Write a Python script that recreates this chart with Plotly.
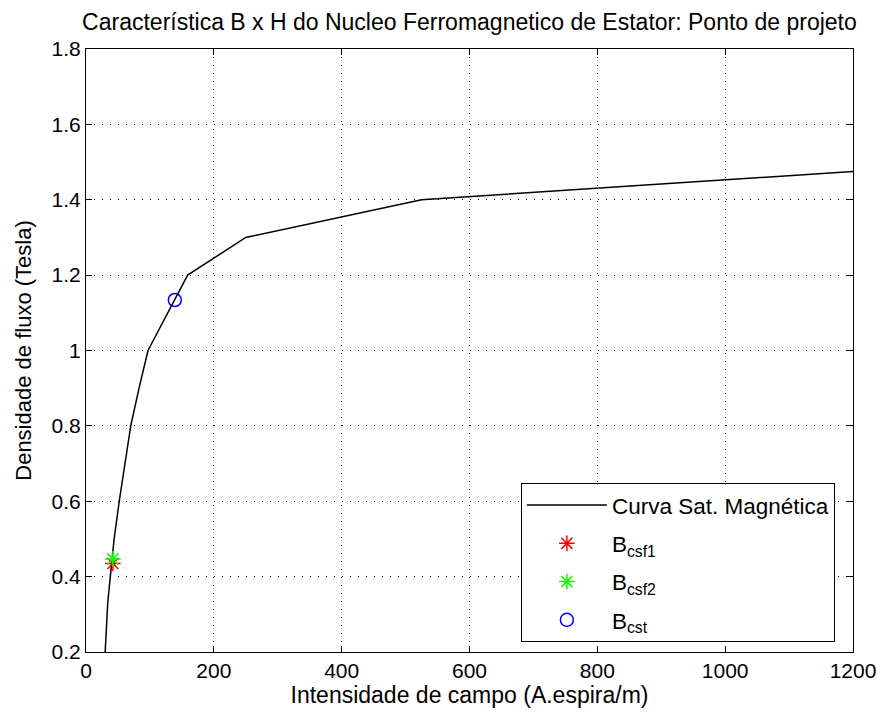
import plotly.graph_objects as go

# B x H curve (H in A.espira/m, B in Tesla)
H_curve = [30, 34, 38, 44, 52, 61, 70, 83, 97, 159, 250, 525, 1200]
B_curve = [0.2, 0.33, 0.4, 0.5, 0.6, 0.7, 0.8, 0.9, 1.0, 1.2, 1.3, 1.4, 1.475]

# design points
H_csf1 = [42]
B_csf1 = [0.435]
H_csf2 = [42]
B_csf2 = [0.447]
H_cst = [139]
B_cst = [1.134]

x_ticks = [0, 200, 400, 600, 800, 1000, 1200]
y_ticks = [0.2, 0.4, 0.6, 0.8, 1.0, 1.2, 1.4, 1.6, 1.8]
y_ticktext = ["0.2", "0.4", "0.6", "0.8", "1", "1.2", "1.4", "1.6", "1.8"]

FONT = "Liberation Sans, Arial, Helvetica, sans-serif"

fig = go.Figure()
fig.add_trace(go.Scatter(x=H_curve, y=B_curve, mode="lines",
                         line=dict(color="black", width=1.5),
                         name="Curva Sat. Magnética", legendgroup="a"))
fig.add_trace(go.Scatter(x=H_csf1, y=B_csf1, mode="markers",
                         marker=dict(symbol="asterisk-open", size=13, color="red",
                                     line=dict(color="red", width=1.5)),
                         name="B<sub>csf1</sub>", legendgroup="b"))
fig.add_trace(go.Scatter(x=H_csf2, y=B_csf2, mode="markers",
                         marker=dict(symbol="asterisk-open", size=13, color="#00ff00",
                                     line=dict(color="#00ff00", width=1.5)),
                         name="B<sub>csf2</sub>", legendgroup="c"))
fig.add_trace(go.Scatter(x=H_cst, y=B_cst, mode="markers",
                         marker=dict(symbol="circle-open", size=13, color="blue",
                                     line=dict(color="blue", width=1.5)),
                         name="B<sub>cst</sub>", legendgroup="d"))

axis_common = dict(
    showline=True, linecolor="black", linewidth=1, mirror="ticks",
    ticks="inside", ticklen=6, tickcolor="black", tickwidth=1,
    showgrid=True, gridcolor="black", gridwidth=1, griddash="1px,7px",
    zeroline=False, automargin=False,
    tickfont=dict(family=FONT, size=21, color="black"),
)

fig.update_layout(
    width=878, height=715,
    margin=dict(l=86, r=25, t=49, b=63, autoexpand=False),
    paper_bgcolor="white", plot_bgcolor="white",
    font=dict(family=FONT, color="black"),
    title=dict(text="Característica B x H do Nucleo Ferromagnetico de Estator: Ponto de projeto",
               x=0.5347, xanchor="center", y=0.969, yanchor="middle",
               font=dict(family=FONT, size=23, color="black")),
    xaxis=dict(range=[0, 1200], tickvals=x_ticks,
               title=dict(text="Intensidade de campo (A.espira/m)",
                          font=dict(family=FONT, size=23), standoff=4),
               **axis_common),
    yaxis=dict(range=[0.2, 1.8], tickvals=y_ticks, ticktext=y_ticktext,
               title=dict(text="Densidade de fluxo (Tesla)",
                          font=dict(family=FONT, size=22), standoff=13),
               **axis_common),
    legend=dict(x=0.567, y=0.0166, xanchor="left", yanchor="bottom",
                bgcolor="white", bordercolor="black", borderwidth=1,
                font=dict(family=FONT, size=22.5, color="black"),
                itemwidth=80, tracegroupgap=6),
    showlegend=True,
)

fig.write_html("out.html", config={"displayModeBar": False},
               post_script="document.body.style.margin='0';")
